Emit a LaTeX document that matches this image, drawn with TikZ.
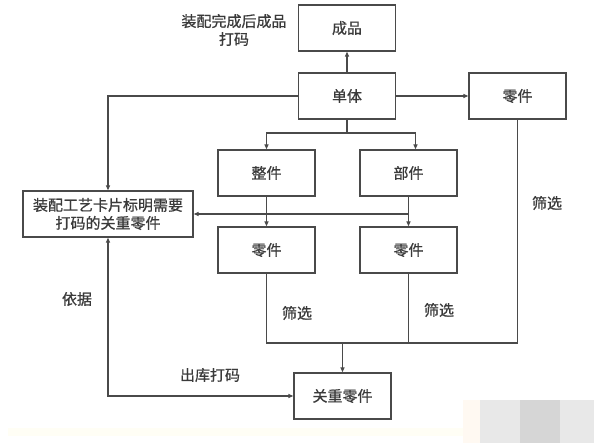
\documentclass[tikz,border=0pt]{standalone}
\usepackage{fontspec}
\setmainfont{Noto Sans CJK SC}[FakeBold=0.8]
\usetikzlibrary{arrows.meta}
\definecolor{linegray}{HTML}{4A4A4A}
\definecolor{textgray}{HTML}{3A3A3A}
\begin{document}
\begin{tikzpicture}[x=1pt,y=-1pt,
    box/.style={draw=linegray,line width=1.3pt,minimum width=97pt,minimum height=46pt,inner sep=0pt,text=textgray,font=\fontsize{15}{18}\selectfont},
    lbl/.style={text=textgray,font=\fontsize{15}{18}\selectfont,align=center,inner sep=0pt},
    ln/.style={draw=linegray,line width=1.3pt},
    arr/.style={ln,-{Triangle[length=5pt,width=4pt]}}]
    \fill[white] (0,0) rectangle (594,443);
    \useasboundingbox (0,0) rectangle (594,443);
    \fill[yellow!4] (8,428) rectangle (470,436);
    \fill[orange!5] (463,400) rectangle (480,443);
    \fill[black!9] (480,400) rectangle (520,443);
    \fill[black!16] (520,400) rectangle (560,443);
    \fill[black!9] (560,400) rectangle (594,443);
    \node[box] (cp) at (347,28) {成品};
    \node[box] (dt) at (347,96) {单体};
    \node[box] (lj) at (517.5,96) {零件};
    \node[box] (zj) at (266.5,173) {整件};
    \node[box] (bj) at (408.5,173) {部件};
    \node[box] (lja) at (266.5,250) {零件};
    \node[box] (ljb) at (408.5,250) {零件};
    \node[box] (gz) at (342.5,396) {关重零件};
    \node[box,minimum width=170pt,align=center] (card) at (108,214) {装配工艺卡片标明需要\\打码的关重零件};
    \node[lbl] (tl) at (234,30) {装配完成后成品\\打码};
    \node[lbl] (sx) at (547,203) {筛选};
    \node[lbl] (sxa) at (297,313) {筛选};
    \node[lbl] (sxb) at (439,310) {筛选};
    \node[lbl] (yj) at (77,299) {依据};
    \node[lbl] (ck) at (210,375) {出库打码};
    \coordinate (split) at (347,133);
    \coordinate (merge) at (342.5,343);
    \draw[arr] (dt) -- (cp);
    \draw[arr] (dt) -- (lj);
    \draw[arr] (dt.west) -| (card.north);
    \draw[ln] (dt) -- (split);
    \draw[arr] (split) -| (zj.north);
    \draw[arr] (split) -| ([xshift=7pt]bj.north);
    \draw[arr] (zj) -- (lja);
    \draw[arr] (bj) -- (ljb);
    \draw[arr] (bj.south |- card.east) -- (card.east);
    \draw[ln] (lja.south) |- (merge);
    \draw[ln] (ljb.south) |- (merge);
    \draw[ln] (lj.south) |- (merge);
    \draw[arr] (merge) -- (gz.north);
    \draw[arr,{Triangle[length=5pt,width=4pt]}-{Triangle[length=5pt,width=4pt]}] (card.south) |- (gz.west);
\end{tikzpicture}
\end{document}
